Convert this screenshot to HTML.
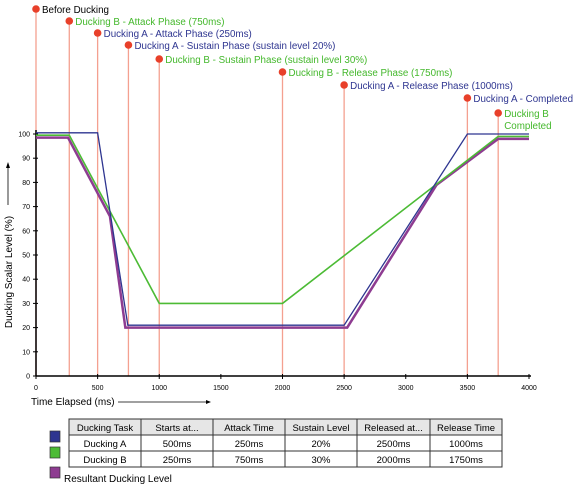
<!DOCTYPE html>
<html><head><meta charset="utf-8"><style>
body{margin:0;background:#fff;font-family:"Liberation Sans",sans-serif;}
svg text{font-family:"Liberation Sans",sans-serif;}
</style></head><body>
<svg width="580" height="488" viewBox="0 0 580 488">
<g id="markers"></g>
<g id="axes"></g>
<g id="series"></g>
<g id="table"></g>
</svg>
<script>
const markerTimes=[0,270,500,750,1000,2000,2500,3500,3750];
const markerLabels=["Before Ducking","Ducking B - Attack Phase (750ms)","Ducking A - Attack Phase (250ms)","Ducking A - Sustain Phase (sustain level 20%)","Ducking B - Sustain Phase (sustain level 30%)","Ducking B - Release Phase (1750ms)","Ducking A - Release Phase (1000ms)","Ducking A - Completed","Ducking B|Completed"];
const markerColors=["#000","#44b82c","#2e3590","#2e3590","#44b82c","#44b82c","#2e3590","#2e3590","#44b82c"];
const xTicks=[0,500,1000,1500,2000,2500,3000,3500,4000];
const yTicks=[0,10,20,30,40,50,60,70,80,90,100];
const seriesATimes=[0,500,745,2500,3500,4000];
const seriesAValues=[100.5,100.5,21,21,100,100];
const seriesBTimes=[0,270,1000,2000,3750,4000];
const seriesBValues=[99.5,99.5,30,30,99,99];
const resultTimes=[0,260,600,725,2525,3250,3750,4000];
const resultValues=[98.5,98.5,66,20,20,79,98,98];
const tableHeader=["Ducking Task","Starts at...","Attack Time","Sustain Level","Released at...","Release Time"];
const tableRowA=["Ducking A","500ms","250ms","20%","2500ms","1000ms"];
const tableRowB=["Ducking B","250ms","750ms","30%","2000ms","1750ms"];

const NS="http://www.w3.org/2000/svg";
const X=t=>36+t*(493/4000);
const Y=v=>376-v*2.42;
function mk(tag,attrs,parent,text){const e=document.createElementNS(NS,tag);for(const k in attrs)e.setAttribute(k,attrs[k]);if(text!==undefined)e.textContent=text;parent.appendChild(e);return e;}
const gM=document.getElementById('markers'),gA=document.getElementById('axes'),gS=document.getElementById('series'),gT=document.getElementById('table');

const dotY=[9,21,33,45,59,72,85,98,113];
markerTimes.forEach((t,i)=>{
  const x=X(t);
  const l=mk('line',{x1:x,y1:dotY[i],x2:x,y2:376,stroke:'#f4a090','stroke-width':1.3},gM);
  
  
  const c=mk('circle',{cx:x,cy:dotY[i],r:3.8,fill:'#e8402a'},gM);
  
  
  const parts=markerLabels[i].split('|');
  parts.forEach((p,j)=>{
    const tx=mk('text',{x:x+6,y:dotY[i]+4+j*12,'font-size':9.8,fill:markerColors[i]},gM,p);
    
    
  });
});

mk('line',{x1:36,y1:376,x2:531,y2:376,stroke:'#000','stroke-width':1.5},gA);
mk('line',{x1:36,y1:376,x2:36,y2:130,stroke:'#000','stroke-width':1.5},gA);
xTicks.forEach(t=>{
  mk('line',{x1:X(t),y1:374,x2:X(t),y2:379,stroke:'#000'},gA);
  const tx=mk('text',{x:X(t),y:390,'font-size':7,'text-anchor':'middle'},gA,t);
  
  
});
yTicks.forEach(v=>{
  mk('line',{x1:33,y1:Y(v),x2:38,y2:Y(v),stroke:'#000'},gA);
  const tx=mk('text',{x:30,y:Y(v)+2.5,'font-size':7,'text-anchor':'end'},gA,v);
  
  
});
const xt=mk('text',{x:31,y:405,'font-size':10},gA,'Time Elapsed (ms)');


mk('line',{x1:118,y1:402,x2:210,y2:402,stroke:'#000','stroke-width':0.8},gA);
mk('path',{d:'M211 402 L206 400 L206 404 Z',fill:'#000'},gA);
const yt=mk('text',{x:0,y:0,'font-size':10,'text-anchor':'middle',transform:'translate(12,272) rotate(-90)'},gA,'Ducking Scalar Level (%)');


mk('line',{x1:8,y1:205,x2:8,y2:165,stroke:'#000','stroke-width':0.8},gA);
mk('path',{d:'M8 162 L6 168 L10 168 Z',fill:'#000'},gA);

function line(ts,vs,color,w,name){
  const p=mk('polyline',{points:ts.map((t,i)=>X(t)+','+Y(vs[i])).join(' '),fill:'none',stroke:color,'stroke-width':w},gS);
  
  
}
line(resultTimes,resultValues,'#8e3c91',2.5,'resultant-line');
line(seriesBTimes,seriesBValues,'#4cbb35',1.6,'ducking-b-line');
line(seriesATimes,seriesAValues,'#2e3590',1.3,'ducking-a-line');

const cols=[69,141,213,285,357,430,502],rowsY=[419,435,451,467];
mk('rect',{x:69,y:419,width:433,height:48,fill:'#fff',stroke:'#333'},gT);
mk('rect',{x:69,y:419,width:433,height:16,fill:'#e6e6e6',stroke:'#333'},gT);
cols.forEach(c=>mk('line',{x1:c,y1:419,x2:c,y2:467,stroke:'#333'},gT));
rowsY.forEach(r=>mk('line',{x1:69,y1:r,x2:502,y2:r,stroke:'#333'},gT));
[tableHeader,tableRowA,tableRowB].forEach((row,ri)=>{
  row.forEach((cell,ci)=>{
    const tx=mk('text',{x:(cols[ci]+cols[ci+1])/2,y:rowsY[ri]+12,'font-size':9.5,'text-anchor':'middle'},gT,cell);
    
    
  });
});
[[437,'#2e3590','legend-swatch-a'],[453,'#4cbb35','legend-swatch-b'],[473,'#8e3c91','legend-swatch-resultant']].forEach(s=>{
  const r=mk('rect',{x:50,y:s[0]-6,width:10,height:11,fill:s[1],stroke:'#333','stroke-width':0.7},gT);
  
  
});
const lt=mk('text',{x:64,y:482,'font-size':10},gT,'Resultant Ducking Level');


</script>
</body></html>
